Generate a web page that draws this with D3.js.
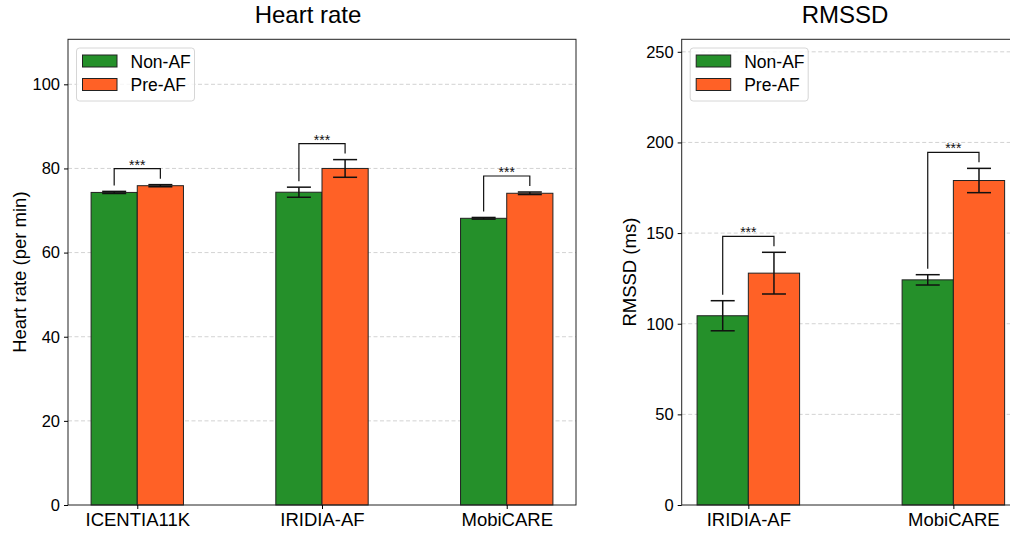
<!DOCTYPE html>
<html>
<head>
<meta charset="utf-8">
<script src="https://cdn.jsdelivr.net/npm/d3@7"></script>
<style>
  body { margin: 0; background: #fff; }
  svg { display: block; font-family: "Liberation Sans", Arial, Helvetica, sans-serif; }
</style>
</head>
<body>
<div id="chart"></div>
<script>
// series names + colours
var seriesNames = ["Non-AF", "Pre-AF"];
var seriesColors = ["#25902a", "#ff6126"];

// heart rate panel
var hrCategories = ["ICENTIA11K", "IRIDIA-AF", "MobiCARE"];
var hrNonAF = [74.3, 74.35, 68.15];
var hrNonAFErr = [0.25, 1.2, 0.2];
var hrPreAF = [75.9, 80.0, 74.1];
var hrPreAFErr = [0.25, 2.1, 0.3];
var hrTicks = [0, 20, 40, 60, 80, 100];
var hrSig = ["***", "***", "***"];

// RMSSD panel
var rmCategories = ["IRIDIA-AF", "MobiCARE"];
var rmNonAF = [104.4, 124.2];
var rmNonAFErr = [8.3, 2.85];
var rmPreAF = [127.9, 179.0];
var rmPreAFErr = [11.5, 6.7];
var rmTicks = [0, 50, 100, 150, 200, 250];
var rmSig = ["***", "***"];

var W = 1010, H = 533;

var svg = d3.select("#chart").append("svg")
    .attr("width", W)
    .attr("height", H);

function drawPanel(opt) {
  var n = opt.categories.length;
  var pad = 0.05 * (n - 1 + 0.5);
  var x = d3.scaleLinear()
      .domain([-0.25 - pad, n - 1 + 0.25 + pad])
      .range([opt.left, opt.right]);
  var y = d3.scaleLinear()
      .domain([0, opt.ymax])
      .range([opt.bottom, opt.top]);
  var bw = x(0.25) - x(0);

  var g = svg.append("g");

  // grid
  g.append("g").selectAll("line")
    .data(opt.ticks.filter(function(t) { return t > 0; }))
    .enter().append("line")
      .attr("x1", opt.left).attr("x2", opt.right)
      .attr("y1", function(d) { return y(d); })
      .attr("y2", function(d) { return y(d); })
      .attr("stroke", "#c8c8c8")
      .attr("stroke-width", 0.8)
      .attr("stroke-dasharray", "4,2.5");

  var series = [
    { vals: opt.nonAF, errs: opt.nonAFErr, off: -0.125, color: seriesColors[0] },
    { vals: opt.preAF, errs: opt.preAFErr, off: 0.125, color: seriesColors[1] }
  ];

  series.forEach(function(s) {
    g.append("g").selectAll("rect")
      .data(s.vals)
      .enter().append("rect")
        .attr("x", function(d, i) { return x(i + s.off) - bw / 2; })
        .attr("y", function(d) { return y(d); })
        .attr("width", bw)
        .attr("height", function(d) { return y(0) - y(d); })
        .attr("fill", s.color)
        .attr("stroke", "#222")
        .attr("stroke-width", 1);
  });

  // error bars
  series.forEach(function(s) {
    var eg = g.append("g").attr("stroke", "#111").attr("stroke-width", 1.5);
    s.vals.forEach(function(v, i) {
      var cx = x(i + s.off), e = s.errs[i];
      eg.append("line").attr("x1", cx).attr("x2", cx)
        .attr("y1", y(v - e)).attr("y2", y(v + e));
      [v - e, v + e].forEach(function(yy) {
        eg.append("line").attr("x1", cx - 12).attr("x2", cx + 12)
          .attr("y1", y(yy)).attr("y2", y(yy));
      });
    });
  });

  // significance brackets
  opt.sig.forEach(function(label, i) {
    var x1 = x(i - 0.125), x2 = x(i + 0.125);
    var t1 = y(opt.nonAF[i] + opt.nonAFErr[i]);
    var t2 = y(opt.preAF[i] + opt.preAFErr[i]);
    var hy = Math.min(t1, t2) - 16;
    g.append("path")
      .attr("d", "M" + x1 + "," + (t1 - 6) + "V" + hy + "H" + x2 + "V" + (t2 - 6))
      .attr("fill", "none")
      .attr("stroke", "#111")
      .attr("stroke-width", 1.2);
    g.append("text")
      .attr("x", (x1 + x2) / 2)
      .attr("y", hy + 1)
      .attr("text-anchor", "middle")
      .attr("font-size", 14)
      .attr("fill", "#111")
      .text(label);
  });

  // spines
  g.append("rect")
    .attr("x", opt.left).attr("y", opt.top)
    .attr("width", opt.right - opt.left)
    .attr("height", opt.bottom - opt.top)
    .attr("fill", "none")
    .attr("stroke", "#222")
    .attr("stroke-width", 1);

  // y axis
  var yAxis = d3.axisLeft(y).tickValues(opt.ticks).tickSize(4).tickPadding(4);
  var ya = g.append("g").attr("transform", "translate(" + opt.left + ",0)").call(yAxis);
  ya.select(".domain").remove();
  ya.selectAll("text").attr("font-size", 16.5).attr("fill", "#000")
    .attr("font-family", "Liberation Sans, Arial, sans-serif");

  // x axis
  var xAxis = d3.axisBottom(x)
      .tickValues(d3.range(n))
      .tickFormat(function(d) { return opt.categories[d]; })
      .tickSize(4).tickPadding(4);
  var xa = g.append("g").attr("transform", "translate(0," + opt.bottom + ")").call(xAxis);
  xa.select(".domain").remove();
  xa.selectAll("text").attr("font-size", 18.5).attr("fill", "#000")
    .attr("font-family", "Liberation Sans, Arial, sans-serif");

  // title
  svg.append("text")
    .attr("x", opt.titleX).attr("y", 23)
    .attr("text-anchor", "middle")
    .attr("font-size", 24)
    .text(opt.title);

  // y label
  svg.append("text")
    .attr("transform", "translate(" + opt.ylabelX + "," + ((opt.top + opt.bottom) / 2) + ") rotate(-90)")
    .attr("text-anchor", "middle")
    .attr("font-size", 18.5)
    .text(opt.ylabel);

  // legend
  var lx = opt.left + 8.5, ly = 48;
  var lg = svg.append("g").attr("transform", "translate(" + lx + "," + ly + ")");
  lg.append("rect")
    .attr("width", 118).attr("height", 53).attr("rx", 3)
    .attr("fill", "#fff").attr("fill-opacity", 0.8)
    .attr("stroke", "#d6d6d6").attr("stroke-width", 1);
  seriesNames.forEach(function(name, k) {
    lg.append("rect")
      .attr("x", 6).attr("y", 7 + k * 23.5)
      .attr("width", 34.5).attr("height", 12)
      .attr("fill", seriesColors[k])
      .attr("stroke", "#222").attr("stroke-width", 1);
    lg.append("text")
      .attr("x", 54).attr("y", 19.5 + k * 23.5)
      .attr("font-size", 17.5)
      .text(name);
  });
}

drawPanel({
  title: "Heart rate", titleX: 308,
  ylabel: "Heart rate (per min)", ylabelX: 26,
  categories: hrCategories,
  nonAF: hrNonAF, nonAFErr: hrNonAFErr,
  preAF: hrPreAF, preAFErr: hrPreAFErr,
  ticks: hrTicks, sig: hrSig, ymax: 110.7,
  left: 68, right: 576, top: 39.3, bottom: 505
});

drawPanel({
  title: "RMSSD", titleX: 845,
  ylabel: "RMSSD (ms)", ylabelX: 636,
  categories: rmCategories,
  nonAF: rmNonAF, nonAFErr: rmNonAFErr,
  preAF: rmPreAF, preAFErr: rmPreAFErr,
  ticks: rmTicks, sig: rmSig, ymax: 256.9,
  left: 681.7, right: 1020, top: 39.3, bottom: 505
});
</script>
</body>
</html>
